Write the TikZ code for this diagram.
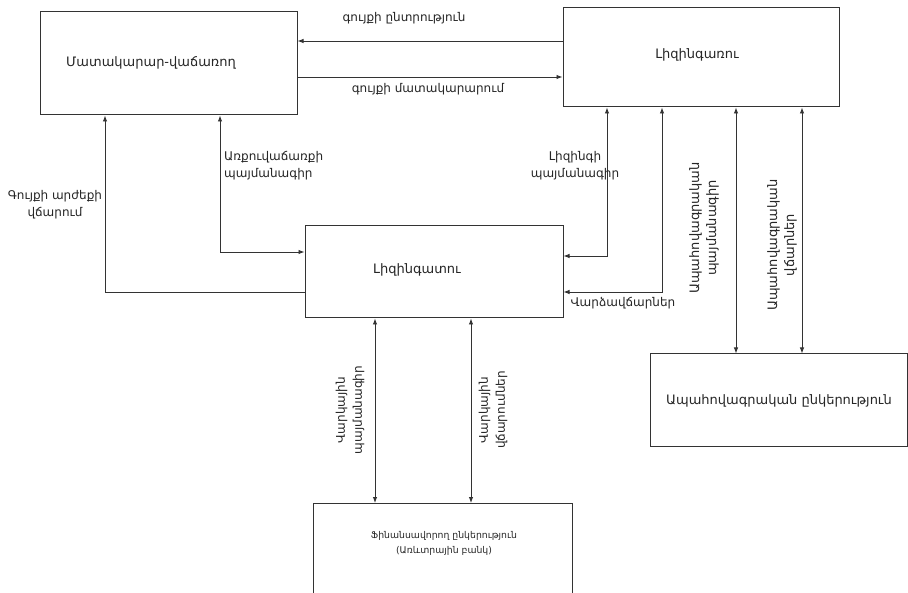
\documentclass[tikz,border=0pt]{standalone}
\usepackage{fontspec}
\setmainfont{DejaVu Sans}
\usetikzlibrary{arrows.meta}
\begin{document}
\begin{tikzpicture}[x=1pt,y=-1pt,
  box/.style={draw=black!80, line width=1pt, inner sep=0pt},
  boxtext/.style={font=\fontsize{13}{16}\selectfont, text=black!85, inner sep=0pt},
  lbl/.style={font=\fontsize{12}{17}\selectfont, text=black!85, align=center, inner sep=0pt},
  tip/.tip={Latex[length=6pt,width=4.5pt]},
  link/.style={draw=black!80, line width=0.9pt, -tip},
  blink/.style={draw=black!80, line width=0.9pt, tip-tip}
]
\useasboundingbox (0,0) rectangle (908,593);
\fill[white] (0,0) rectangle (908,593);

% boxes
\node[box, minimum width=257pt, minimum height=103pt] (sup) at (168.5,63.5) {};
\node[boxtext] (suptext) at (151,63) {Մատակարար-վաճառող};
\node[box, minimum width=276pt, minimum height=99pt] (lessee) at (701,57.5) {};
\node[boxtext] (lesseetext) at (697,55) {Լիզինգառու};
\node[box, minimum width=258pt, minimum height=92pt] (lessor) at (434,272) {};
\node[boxtext] (lessortext) at (417,270) {Լիզինգատու};
\node[box, minimum width=257pt, minimum height=93pt] (ins) at (778.5,400.5) {};
\node[boxtext] (instext) at (779,401) {Ապահովագրական ընկերություն};
\node[box, anchor=north, minimum width=259pt, minimum height=120pt] (fin) at (442.5,503) {};
\node[lbl, font=\fontsize{9.3}{15}\selectfont] (fintext) at (444,543) {Ֆինանսավորող ընկերություն\\(Առևտրային բանկ)};

% elbow / level coordinates
\coordinate (y41) at (0,41);
\coordinate (y77) at (0,77);
\coordinate (k1) at (105,292);
\coordinate (k2) at (220,252);
\coordinate (k3) at (607,256);
\coordinate (k4) at (662,292);
\coordinate (k5) at (736,0);
\coordinate (k6) at (802,0);
\coordinate (k7) at (375,0);
\coordinate (k8) at (471,0);

% connectors
\draw[link] (lessee.west |- y41) -- (sup.east |- y41);
\draw[link] (sup.east |- y77) -- (lessee.west |- y77);
\draw[link] (lessor.west |- k1) -- (k1) -- (sup.south -| k1);
\draw[blink] (sup.south -| k2) -- (k2) -- (lessor.west |- k2);
\draw[blink] (lessee.south -| k3) -- (k3) -- (lessor.east |- k3);
\draw[blink] (lessee.south -| k4) -- (k4) -- (lessor.east |- k4);
\draw[blink] (lessee.south -| k5) -- (ins.north -| k5);
\draw[blink] (lessee.south -| k6) -- (ins.north -| k6);
\draw[blink] (lessor.south -| k7) -- (fin.north -| k7);
\draw[blink] (lessor.south -| k8) -- (fin.north -| k8);

% labels
\node[lbl] (l1) at (404,18) {գույքի ընտրություն};
\node[lbl] (l2) at (428,89) {գույքի մատակարարում};
\node[lbl] (l3) at (55,205) {Գույքի արժեքի\\վճարում};
\node[lbl, align=left, anchor=west] (l4) at (224,166) {Առքուվաճառքի\\պայմանագիր};
\node[lbl] (l5) at (575,166) {Լիզինգի\\պայմանագիր};
\node[lbl] (l6) at (623,303) {Վարձավճարներ};
\node[lbl, rotate=90, font=\fontsize{13}{17}\selectfont] (l7) at (704,228) {Ապահովագրական\\պայմանագիր};
\node[lbl, rotate=90, font=\fontsize{13}{17}\selectfont] (l8) at (782,245) {Ապահովագրական\\վճարներ};
\node[lbl, rotate=90] (l9) at (350,410) {Վարկային\\պայմանագիր};
\node[lbl, rotate=90] (l10) at (493,410) {Վարկային\\վճարումներ};
\end{tikzpicture}
\end{document}
